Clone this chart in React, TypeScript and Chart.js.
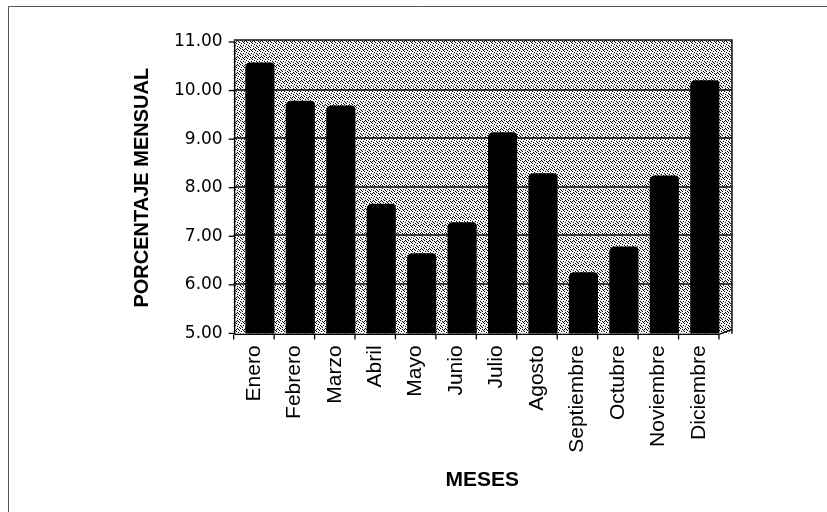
import React, { useEffect, useRef } from "react";
import { Chart, registerables } from "chart.js";

Chart.register(...registerables);

const MESES = [
  "Enero",
  "Febrero",
  "Marzo",
  "Abril",
  "Mayo",
  "Junio",
  "Julio",
  "Agosto",
  "Septiembre",
  "Octubre",
  "Noviembre",
  "Diciembre",
];
const PORCENTAJE = [10.58, 9.79, 9.69, 7.67, 6.65, 7.29, 9.14, 8.3, 6.26, 6.79, 8.25, 10.21];
const Y_MIN = 5;
const Y_MAX = 11;
const Y_STEP = 1;
const Y_TITLE = "PORCENTAJE MENSUAL";
const X_TITLE = "MESES";

function makeStipple(): CanvasPattern | string {
  const c = document.createElement("canvas");
  c.width = 8;
  c.height = 8;
  const g = c.getContext("2d");
  if (!g) return "#b8b8b8";
  g.fillStyle = "#f4f4f4";
  g.fillRect(0, 0, 8, 8);
  g.fillStyle = "#000";
  const dots = [
    [0, 0], [2, 1], [5, 0], [7, 2], [1, 3], [4, 3], [6, 4], [0, 5],
    [3, 5], [5, 6], [2, 7], [7, 7], [4, 1], [1, 6], [6, 1], [3, 2],
  ];
  for (const [x, y] of dots) g.fillRect(x, y, 1, 1);
  const p = g.createPattern(c, "repeat");
  return p || "#b8b8b8";
}

const wallPlugin = {
  id: "wall3d",
  beforeDraw(chart: any) {
    const { ctx, chartArea, scales } = chart;
    const y = scales.y;
    const L = chartArea.left - 6;
    const R = chartArea.right + 7;
    const T = chartArea.top - 2;
    const B = chartArea.bottom;
    ctx.save();
    ctx.fillStyle = "#ffffff";
    ctx.fillRect(0, 0, chart.width, chart.height);
    // outer frame
    ctx.strokeStyle = "#555";
    ctx.lineWidth = 1;
    ctx.beginPath();
    ctx.moveTo(8.5, chart.height);
    ctx.lineTo(8.5, 6.5);
    ctx.lineTo(chart.width, 6.5);
    ctx.stroke();
    // back wall
    ctx.fillStyle = makeStipple();
    ctx.fillRect(L, T, R - L, B - T);
    // grid lines
    ctx.strokeStyle = "#111";
    ctx.lineWidth = 1.6;
    for (let v = Y_MIN + Y_STEP; v < Y_MAX; v += Y_STEP) {
      const py = Math.round(y.getPixelForValue(v)) - 1;
      ctx.beginPath();
      ctx.moveTo(L, py);
      ctx.lineTo(R, py);
      ctx.stroke();
    }
    // wall outline
    ctx.lineWidth = 1.5;
    ctx.beginPath();
    ctx.moveTo(L, T);
    ctx.lineTo(R, T);
    ctx.lineTo(R, B);
    ctx.stroke();
    ctx.restore();
  },
  afterDatasetsDraw(chart: any) {
    const { ctx, chartArea, scales } = chart;
    const x = scales.x;
    const y = scales.y;
    const axisX = chartArea.left - 5;
    const B = chartArea.bottom;
    const R = chartArea.right + 7;
    ctx.save();
    ctx.strokeStyle = "#000";
    ctx.lineWidth = 1.3;
    // front vertical axis
    ctx.beginPath();
    ctx.moveTo(axisX, chartArea.top);
    ctx.lineTo(axisX, B + 1);
    ctx.stroke();
    for (let v = Y_MIN; v <= Y_MAX; v += Y_STEP) {
      const py = y.getPixelForValue(v);
      ctx.beginPath();
      ctx.moveTo(axisX - 6, py);
      ctx.lineTo(axisX, py);
      ctx.stroke();
    }
    // front base line
    const n = MESES.length;
    const half = (x.getPixelForValue(1) - x.getPixelForValue(0)) / 2;
    const lastEdge = x.getPixelForValue(n - 1) + half - 6;
    ctx.beginPath();
    ctx.moveTo(axisX, B + 1);
    ctx.lineTo(lastEdge, B + 1);
    ctx.lineTo(R, B - 4);
    ctx.stroke();
    for (let i = 0; i <= n; i++) {
      const px = x.getPixelForValue(i) - half - 6;
      ctx.beginPath();
      ctx.moveTo(px, B + 1);
      ctx.lineTo(px, B + 6);
      ctx.stroke();
    }
    ctx.restore();
  },
};

export default function App() {
  const ref = useRef<HTMLCanvasElement | null>(null);

  useEffect(() => {
    if (!ref.current) return;
    const chart = new Chart(ref.current, {
      type: "bar",
      data: {
        labels: MESES,
        datasets: [
          {
            data: PORCENTAJE,
            backgroundColor: "#000000",
            borderWidth: 0,
            borderRadius: { topLeft: 5, topRight: 4, bottomLeft: 0, bottomRight: 0 },
            borderSkipped: "start",
            barPercentage: 0.72,
            categoryPercentage: 1,
          },
        ],
      },
      options: {
        animation: false,
        responsive: false,
        maintainAspectRatio: false,
        devicePixelRatio: 1,
        layout: { padding: { left: 120, right: 102, top: 42, bottom: 15 } },
        plugins: {
          legend: { display: false },
          tooltip: { enabled: false },
        },
        scales: {
          x: {
            grid: { display: false, drawTicks: false },
            border: { display: false },
            ticks: {
              color: "#000",
              minRotation: 90,
              maxRotation: 90,
              autoSkip: false,
              padding: 12,
              labelOffset: -6,
              font: { family: "'Liberation Sans', Arial, sans-serif", size: 21 },
            },
            title: {
              display: true,
              text: X_TITLE,
              color: "#000",
              padding: { top: 3, bottom: 4 },
              font: { family: "'Liberation Sans', Arial, sans-serif", size: 21, weight: "bold" },
            },
          },
          y: {
            min: Y_MIN,
            max: Y_MAX,
            grid: { display: false, drawTicks: false },
            border: { display: false },
            ticks: {
              stepSize: Y_STEP,
              color: "#000",
              padding: 17,
              callback: (v: any) => Number(v).toFixed(2),
              font: { family: "'DejaVu Sans', sans-serif", size: 17 },
            },
            title: {
              display: true,
              text: Y_TITLE,
              color: "#000",
              padding: { top: 10, bottom: 3 },
              font: { family: "'Liberation Sans', Arial, sans-serif", size: 20, weight: "bold" },
            },
          },
        },
      },
      plugins: [wallPlugin],
    });
    return () => chart.destroy();
  }, []);

  return (
    <div style={{ position: "fixed", left: 0, top: 0, width: 827, height: 512, background: "#fff" }}>
      <canvas ref={ref} width={827} height={512} style={{ width: 827, height: 512, display: "block" }} />
    </div>
  );
}
